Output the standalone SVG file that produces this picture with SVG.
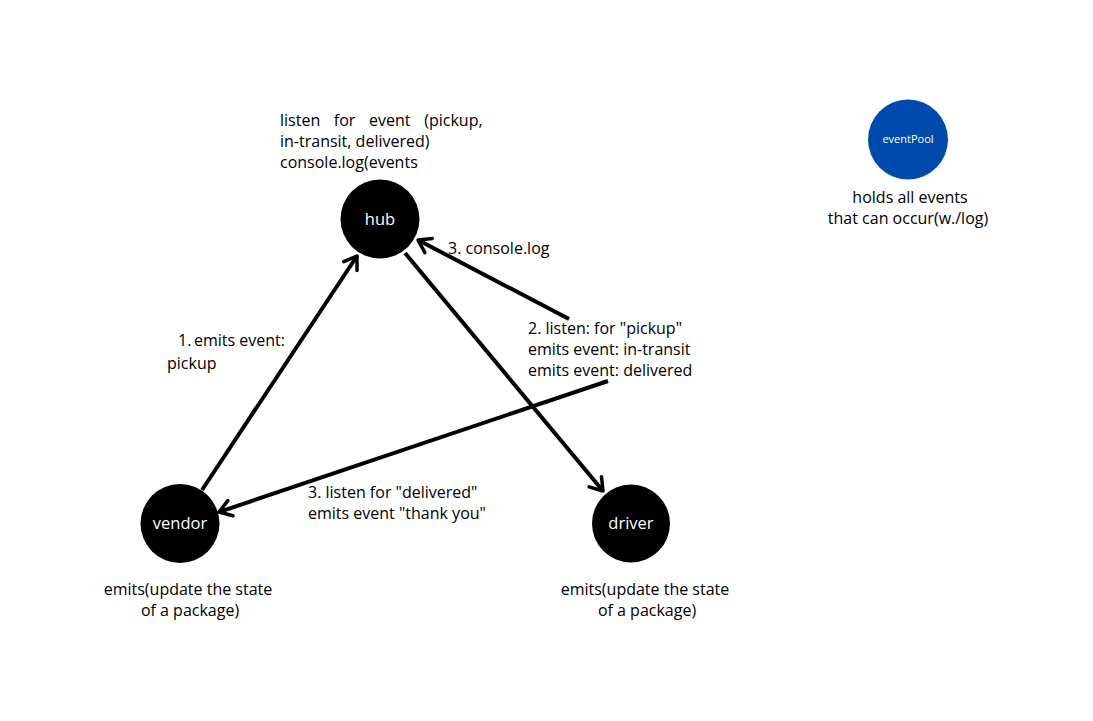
<svg xmlns="http://www.w3.org/2000/svg" width="1093" height="721" viewBox="0 0 1093 721">
<defs>
<style>
.t{font-family:"Open Sans","Noto Sans","Liberation Sans",sans-serif;font-size:16px;fill:#000}
.w{font-family:"Open Sans","Noto Sans","Liberation Sans",sans-serif;font-size:16.5px;fill:#fff}
.c{text-anchor:middle}
.edge{stroke:#000;stroke-width:4;fill:none;stroke-linecap:butt}
</style>
<marker id="arr" viewBox="0 0 20 20" refX="17" refY="10" markerWidth="20" markerHeight="20" markerUnits="userSpaceOnUse" orient="auto">
<polyline points="5,2 17,10 5,18" style="stroke:#000;stroke-width:3.5;fill:none;stroke-linecap:round;stroke-linejoin:round"/>
</marker>
</defs>
<rect width="1093" height="721" fill="#fff"/>
<g id="connectors">
<line class="edge" x1="202" y1="490" x2="357" y2="256" marker-end="url(#arr)"/>
<line class="edge" x1="405" y1="253" x2="603" y2="491" marker-end="url(#arr)"/>
<line class="edge" x1="569" y1="319" x2="418" y2="240" marker-end="url(#arr)"/>
<line class="edge" x1="608" y1="381" x2="219" y2="512" marker-end="url(#arr)"/>
</g>
<g id="hub">
<circle cx="380" cy="219" r="39.5" fill="#000"/>
<text class="w c" x="380" y="225">hub</text>
<text class="t" x="280" y="126" word-spacing="9.5">listen for event (pickup,</text>
<text class="t" x="280" y="147">in-transit, delivered)</text>
<text class="t" x="280" y="168">console.log(events</text>
</g>
<g id="vendor">
<circle cx="180" cy="523.5" r="39.5" fill="#000"/>
<text class="w c" x="180" y="529">vendor</text>
<text class="t c" x="188" y="595">emits(update the state</text>
<text class="t c" x="190" y="616">of a package)</text>
</g>
<g id="driver">
<circle cx="631" cy="523.5" r="39" fill="#000"/>
<text class="w c" x="631" y="529">driver</text>
<text class="t c" x="645" y="595">emits(update the state</text>
<text class="t c" x="647" y="616">of a package)</text>
</g>
<g id="eventPool">
<circle cx="908" cy="139.5" r="40" fill="#004AAD"/>
<text class="c" x="908" y="143" style="font-family:'Open Sans','Noto Sans',sans-serif;font-size:11px;fill:#fff">eventPool</text>
<text class="t c" x="910" y="203">holds all events</text>
<text class="t c" x="908" y="224">that can occur(w./log)</text>
</g>
<g id="labels">
<text class="t" x="448" y="254">3. console.log</text>
<text class="t" x="528" y="334">2. listen: for "pickup"</text>
<text class="t" x="528" y="355">emits event: in-transit</text>
<text class="t" x="528" y="376">emits event: delivered</text>
<text class="t" x="178" y="346">1.</text>
<text class="t" x="194" y="346">emits event:</text>
<text class="t" x="167" y="369">pickup</text>
<text class="t" x="308" y="498">3. listen for "delivered"</text>
<text class="t" x="308" y="519">emits event "thank you"</text>
</g>
</svg>
